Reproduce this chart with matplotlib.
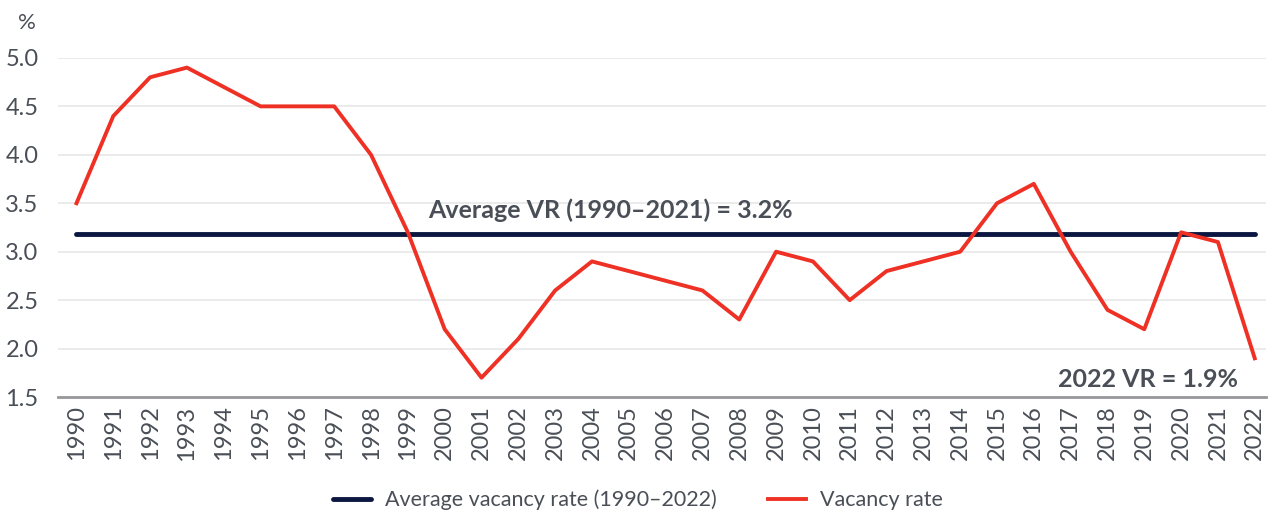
import numpy as np
import matplotlib.pyplot as plt

plt.rcParams["font.family"] = ["Lato", "DejaVu Sans"]

YEARS = [str(y) for y in range(1990, 2023)]
VACANCY_RATE = [
    3.5, 4.4, 4.8, 4.9, 4.7, 4.5, 4.5, 4.5, 4.0, 3.2,
    2.2, 1.7, 2.1, 2.6, 2.9, 2.8, 2.7, 2.6, 2.3, 3.0,
    2.9, 2.5, 2.8, 2.9, 3.0, 3.5, 3.7, 3.0, 2.4, 2.2,
    3.2, 3.1, 1.9,
]
AVERAGE_RATE = 3.18
Y_TICKS = [1.5, 2.0, 2.5, 3.0, 3.5, 4.0, 4.5, 5.0]

TEXT_COLOR = "#4a4f57"
RED = "#ee3124"
NAVY = "#0b1740"


def main():
    fig = plt.figure(figsize=(12.76, 5.17), dpi=100)
    ax = fig.add_axes([0.0455, 0.232, 0.9465, 0.656])

    x = np.arange(len(YEARS))

    ax.plot(
        [x[0], x[-1]],
        [AVERAGE_RATE, AVERAGE_RATE],
        color=NAVY,
        linewidth=3.5,
        solid_capstyle="round",
        label="Average vacancy rate (1990\u20132022)",
        zorder=2,
    )
    ax.plot(
        x,
        VACANCY_RATE,
        color=RED,
        linewidth=2.8,
        label="Vacancy rate",
        zorder=3,
    )

    ax.text(
        14.5, 3.43,
        "Average VR (1990\u20132021) = 3.2%",
        ha="center", va="center",
        fontsize=18, fontweight="bold", color=TEXT_COLOR,
    )
    ax.text(
        29.1, 1.68,
        "2022 VR = 1.9%",
        ha="center", va="center",
        fontsize=18, fontweight="bold", color=TEXT_COLOR,
    )

    ax.set_xlim(-0.5, 32.3)
    ax.set_ylim(1.5, 5.0)
    ax.set_xticks(x)
    ax.set_xticklabels(YEARS, rotation=90)
    ax.set_yticks(Y_TICKS)
    ax.set_yticklabels([f"{v:.1f}" for v in Y_TICKS])
    ax.tick_params(axis="both", length=0, labelsize=17, colors=TEXT_COLOR)
    ax.tick_params(axis="x", pad=6)
    ax.tick_params(axis="y", pad=14)

    ax.grid(axis="y", color="#e8e8e8", linewidth=1.2)
    ax.set_axisbelow(True)
    for side in ["top", "right", "left"]:
        ax.spines[side].set_visible(False)
    ax.spines["bottom"].set_color("#97979c")
    ax.spines["bottom"].set_linewidth(2)

    fig.text(0.014, 0.955, "%", fontsize=16, color=TEXT_COLOR, va="center")

    fig.legend(
        loc="center",
        bbox_to_anchor=(0.5, 0.033),
        ncol=2,
        frameon=False,
        fontsize=15.5,
        labelcolor=TEXT_COLOR,
        handlelength=1.75,
        handletextpad=0.65,
        columnspacing=2.4,
    )

    fig.savefig("out.png", dpi=100)
    plt.close(fig)


if __name__ == "__main__":
    main()
